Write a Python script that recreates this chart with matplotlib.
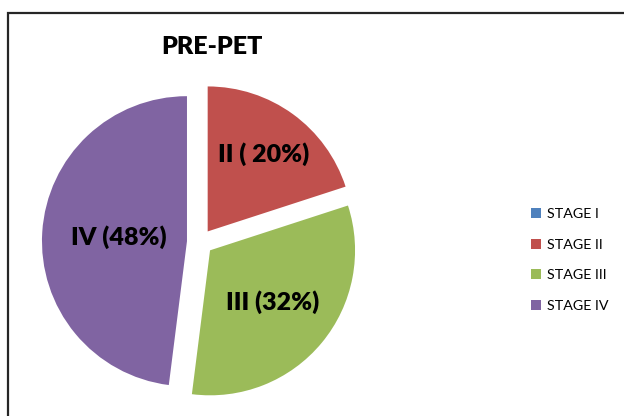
import numpy as np
import matplotlib
matplotlib.use("Agg")
import matplotlib.pyplot as plt
from matplotlib.patches import Rectangle

# data
stages = ["STAGE I", "STAGE II", "STAGE III", "STAGE IV"]
shares = [0, 20, 32, 48]
slice_labels = ["", "II ( 20%)", "III (32%)", "IV (48%)"]
colors = ["#4F81BD", "#C0504D", "#9BBB59", "#8064A2"]

W, H = 624, 416
cx, cy, r = 200, 242, 145          # pie centre / radius in pixels
label_dist = [0.0, 0.66, 0.56, 0.47]

plt.rcParams['font.family'] = ['Lato', 'DejaVu Sans']

fig = plt.figure(figsize=(W / 100, H / 100), dpi=100)
ax = fig.add_axes([0, 0, 1, 1])

wedges, _ = ax.pie(shares, colors=colors, startangle=90, counterclock=False,
                   radius=1, center=(0, 0), explode=[0.09] * 4,
                   wedgeprops=dict(linewidth=0))

# scale so that one radius = r pixels
ax.set_xlim(-cx / r, (W - cx) / r)
ax.set_ylim(-(H - cy) / r, cy / r)
ax.set_aspect('auto')
ax.axis('off')

for w, lab, d in zip(wedges, slice_labels, label_dist):
    if not lab:
        continue
    mid = np.deg2rad((w.theta1 + w.theta2) / 2)
    x = w.center[0] + d * np.cos(mid)
    y = w.center[1] + d * np.sin(mid)
    ax.text(x, y, lab, ha='center', va='center', fontsize=18,
            fontweight='heavy', color='black')

fig.text(212 / W, 1 - 47 / H, "PRE-PET", ha='center', va='center',
         fontsize=18, fontweight='heavy')

leg = fig.legend(wedges, stages, loc='upper left',
                 bbox_to_anchor=(524 / W, 1 - 201 / H),
                 frameon=False, fontsize=10.3, handlelength=0.7,
                 handleheight=0.7, handletextpad=0.4, labelspacing=1.3,
                 borderpad=0)

# chart frame (clipped on the right and bottom like the reference)
fig.patches.append(Rectangle((8 / W, -0.1), 1.2, 1 - 13 / H + 0.1,
                             transform=fig.transFigure, fill=False,
                             lw=1.6, ec='#262626'))

fig.savefig("out.png", dpi=100)
